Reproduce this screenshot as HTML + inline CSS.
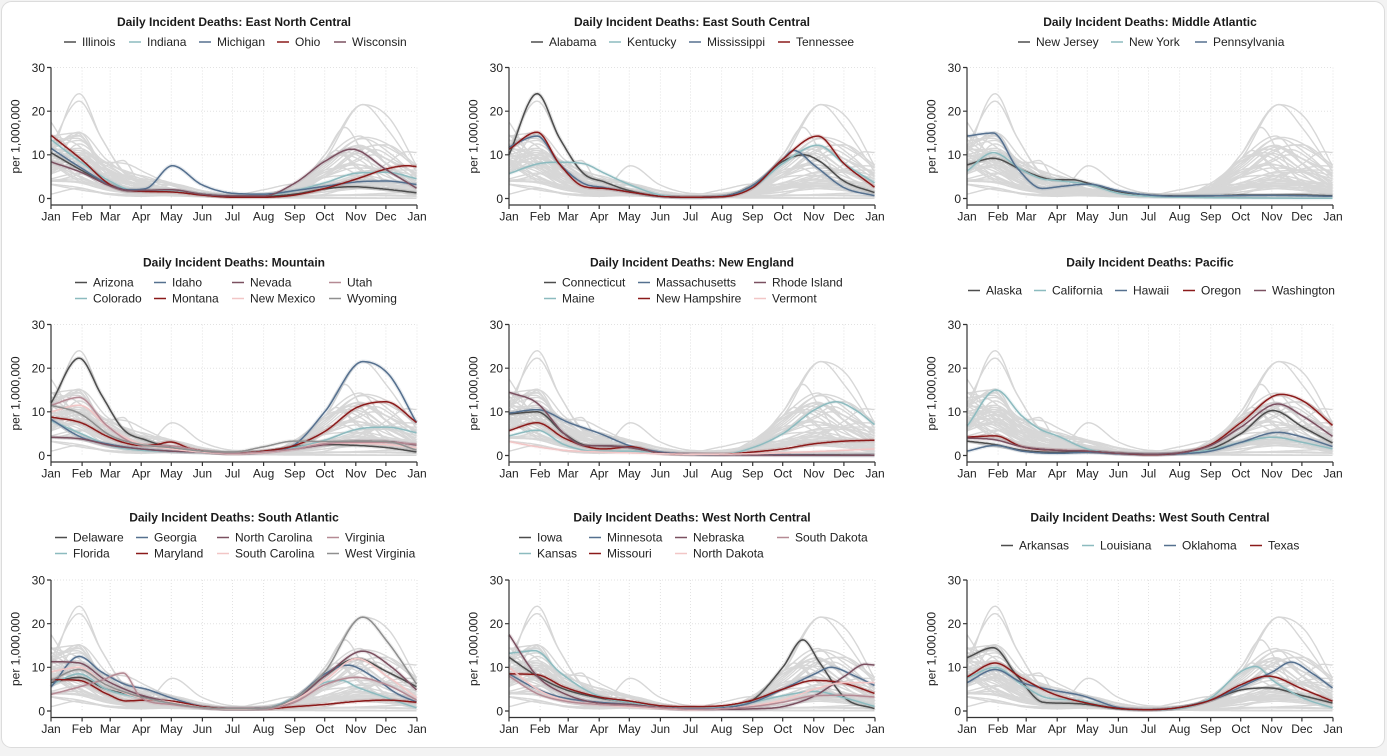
<!DOCTYPE html>
<html><head><meta charset="utf-8">
<style>
html,body{margin:0;padding:0;background:#f3f3f3;}
svg{display:block;font-family:"Liberation Sans",Arial,sans-serif;}
.t{font-size:12px;font-weight:bold;fill:#1a1a1a;text-anchor:middle}
.l{font-size:12px;fill:#222}
.xm{font-size:12px;fill:#222;text-anchor:middle}
.ym{font-size:12px;fill:#222;text-anchor:end}
.yl{font-size:12px;fill:#222;text-anchor:middle}
.sw{stroke-width:1.5;fill:none}
</style></head><body>
<svg id="s" width="1387" height="756" viewBox="0 0 1387 756">
<rect x="1.5" y="1.5" width="1383" height="746" rx="10" fill="#fff" stroke="#dcdcdc"/>

<!-- Titles -->
<text class="t" x="234" y="26">Daily Incident Deaths: East North Central</text>
<text class="t" x="692" y="26">Daily Incident Deaths: East South Central</text>
<text class="t" x="1150" y="26">Daily Incident Deaths: Middle Atlantic</text>
<text class="t" x="234" y="266.5">Daily Incident Deaths: Mountain</text>
<text class="t" x="692" y="266.5">Daily Incident Deaths: New England</text>
<text class="t" x="1150" y="266.5">Daily Incident Deaths: Pacific</text>
<text class="t" x="234" y="521.5">Daily Incident Deaths: South Atlantic</text>
<text class="t" x="692" y="521.5">Daily Incident Deaths: West North Central</text>
<text class="t" x="1150" y="521.5">Daily Incident Deaths: West South Central</text>

<!-- Legends P1 -->
<path class="sw" d="M64,42H76" stroke="#4d4d4d"/><text class="l" x="82" y="46">Illinois</text>
<path class="sw" d="M129,42H141" stroke="#8cbbbf"/><text class="l" x="147" y="46">Indiana</text>
<path class="sw" d="M199,42H211" stroke="#55708f"/><text class="l" x="217" y="46">Michigan</text>
<path class="sw" d="M277,42H289" stroke="#8b1a1a"/><text class="l" x="295" y="46">Ohio</text>
<path class="sw" d="M334,42H346" stroke="#7b5060"/><text class="l" x="352" y="46">Wisconsin</text>
<!-- P2 -->
<path class="sw" d="M531,42H543" stroke="#4d4d4d"/><text class="l" x="549" y="46">Alabama</text>
<path class="sw" d="M609,42H621" stroke="#8cbbbf"/><text class="l" x="627" y="46">Kentucky</text>
<path class="sw" d="M689,42H701" stroke="#55708f"/><text class="l" x="707" y="46">Mississippi</text>
<path class="sw" d="M778,42H790" stroke="#8b1a1a"/><text class="l" x="796" y="46">Tennessee</text>
<!-- P3 -->
<path class="sw" d="M1018,42H1030" stroke="#4d4d4d"/><text class="l" x="1036" y="46">New Jersey</text>
<path class="sw" d="M1111,42H1123" stroke="#8cbbbf"/><text class="l" x="1129" y="46">New York</text>
<path class="sw" d="M1195,42H1207" stroke="#55708f"/><text class="l" x="1213" y="46">Pennsylvania</text>
<!-- P4 -->
<path class="sw" d="M75,282.5H87" stroke="#4d4d4d"/><text class="l" x="93" y="286.5">Arizona</text>
<path class="sw" d="M154,282.5H166" stroke="#55708f"/><text class="l" x="172" y="286.5">Idaho</text>
<path class="sw" d="M232,282.5H244" stroke="#7b5060"/><text class="l" x="250" y="286.5">Nevada</text>
<path class="sw" d="M329,282.5H341" stroke="#b58a94"/><text class="l" x="347" y="286.5">Utah</text>
<path class="sw" d="M75,298.5H87" stroke="#8cbbbf"/><text class="l" x="93" y="302.5">Colorado</text>
<path class="sw" d="M154,298.5H166" stroke="#8b1a1a"/><text class="l" x="172" y="302.5">Montana</text>
<path class="sw" d="M232,298.5H244" stroke="#f2c6c6"/><text class="l" x="250" y="302.5">New Mexico</text>
<path class="sw" d="M329,298.5H341" stroke="#8f8f8f"/><text class="l" x="347" y="302.5">Wyoming</text>
<!-- P5 -->
<path class="sw" d="M544,282.5H556" stroke="#4d4d4d"/><text class="l" x="562" y="286.5">Connecticut</text>
<path class="sw" d="M638,282.5H650" stroke="#55708f"/><text class="l" x="656" y="286.5">Massachusetts</text>
<path class="sw" d="M754,282.5H766" stroke="#7b5060"/><text class="l" x="772" y="286.5">Rhode Island</text>
<path class="sw" d="M544,298.5H556" stroke="#8cbbbf"/><text class="l" x="562" y="302.5">Maine</text>
<path class="sw" d="M638,298.5H650" stroke="#8b1a1a"/><text class="l" x="656" y="302.5">New Hampshire</text>
<path class="sw" d="M754,298.5H766" stroke="#f2c6c6"/><text class="l" x="772" y="302.5">Vermont</text>
<!-- P6 -->
<path class="sw" d="M968,290.5H980" stroke="#4d4d4d"/><text class="l" x="986" y="294.5">Alaska</text>
<path class="sw" d="M1034,290.5H1046" stroke="#8cbbbf"/><text class="l" x="1052" y="294.5">California</text>
<path class="sw" d="M1115,290.5H1127" stroke="#55708f"/><text class="l" x="1133" y="294.5">Hawaii</text>
<path class="sw" d="M1183,290.5H1195" stroke="#8b1a1a"/><text class="l" x="1201" y="294.5">Oregon</text>
<path class="sw" d="M1254,290.5H1266" stroke="#7b5060"/><text class="l" x="1272" y="294.5">Washington</text>
<!-- P7 -->
<path class="sw" d="M55,537.5H67" stroke="#4d4d4d"/><text class="l" x="73" y="541.5">Delaware</text>
<path class="sw" d="M136,537.5H148" stroke="#55708f"/><text class="l" x="154" y="541.5">Georgia</text>
<path class="sw" d="M217,537.5H229" stroke="#7b5060"/><text class="l" x="235" y="541.5">North Carolina</text>
<path class="sw" d="M327,537.5H339" stroke="#b58a94"/><text class="l" x="345" y="541.5">Virginia</text>
<path class="sw" d="M55,553.5H67" stroke="#8cbbbf"/><text class="l" x="73" y="557.5">Florida</text>
<path class="sw" d="M136,553.5H148" stroke="#8b1a1a"/><text class="l" x="154" y="557.5">Maryland</text>
<path class="sw" d="M217,553.5H229" stroke="#f2c6c6"/><text class="l" x="235" y="557.5">South Carolina</text>
<path class="sw" d="M327,553.5H339" stroke="#8f8f8f"/><text class="l" x="345" y="557.5">West Virginia</text>
<!-- P8 -->
<path class="sw" d="M519,537.5H531" stroke="#4d4d4d"/><text class="l" x="537" y="541.5">Iowa</text>
<path class="sw" d="M589,537.5H601" stroke="#55708f"/><text class="l" x="607" y="541.5">Minnesota</text>
<path class="sw" d="M675,537.5H687" stroke="#7b5060"/><text class="l" x="693" y="541.5">Nebraska</text>
<path class="sw" d="M777,537.5H789" stroke="#b58a94"/><text class="l" x="795" y="541.5">South Dakota</text>
<path class="sw" d="M519,553.5H531" stroke="#8cbbbf"/><text class="l" x="537" y="557.5">Kansas</text>
<path class="sw" d="M589,553.5H601" stroke="#8b1a1a"/><text class="l" x="607" y="557.5">Missouri</text>
<path class="sw" d="M675,553.5H687" stroke="#f2c6c6"/><text class="l" x="693" y="557.5">North Dakota</text>
<!-- P9 -->
<path class="sw" d="M1001,545.5H1013" stroke="#4d4d4d"/><text class="l" x="1019" y="549.5">Arkansas</text>
<path class="sw" d="M1082,545.5H1094" stroke="#8cbbbf"/><text class="l" x="1100" y="549.5">Louisiana</text>
<path class="sw" d="M1164,545.5H1176" stroke="#55708f"/><text class="l" x="1182" y="549.5">Oklahoma</text>
<path class="sw" d="M1250,545.5H1262" stroke="#8b1a1a"/><text class="l" x="1268" y="549.5">Texas</text>

<!-- Panels -->
<g transform="translate(51,67.5)"><g id="p0"></g>
<text class="ym" x="-6" y="135.3">0</text><text class="ym" x="-6" y="91.6">10</text><text class="ym" x="-6" y="47.9">20</text><text class="ym" x="-6" y="4.3">30</text>
<text class="xm" x="0" y="153">Jan</text><text class="xm" x="31.1" y="153">Feb</text><text class="xm" x="59.2" y="153">Mar</text><text class="xm" x="90.2" y="153">Apr</text><text class="xm" x="120.3" y="153">May</text><text class="xm" x="151.4" y="153">Jun</text><text class="xm" x="181.5" y="153">Jul</text><text class="xm" x="212.6" y="153">Aug</text><text class="xm" x="243.7" y="153">Sep</text><text class="xm" x="273.7" y="153">Oct</text><text class="xm" x="304.8" y="153">Nov</text><text class="xm" x="334.9" y="153">Dec</text><text class="xm" x="366" y="153">Jan</text>
<text class="yl" transform="translate(-31.5,69) rotate(-90)">per 1,000,000</text></g>

<g transform="translate(509,67.5)"><g id="p1"></g>
<text class="ym" x="-6" y="135.3">0</text><text class="ym" x="-6" y="91.6">10</text><text class="ym" x="-6" y="47.9">20</text><text class="ym" x="-6" y="4.3">30</text>
<text class="xm" x="0" y="153">Jan</text><text class="xm" x="31.1" y="153">Feb</text><text class="xm" x="59.2" y="153">Mar</text><text class="xm" x="90.2" y="153">Apr</text><text class="xm" x="120.3" y="153">May</text><text class="xm" x="151.4" y="153">Jun</text><text class="xm" x="181.5" y="153">Jul</text><text class="xm" x="212.6" y="153">Aug</text><text class="xm" x="243.7" y="153">Sep</text><text class="xm" x="273.7" y="153">Oct</text><text class="xm" x="304.8" y="153">Nov</text><text class="xm" x="334.9" y="153">Dec</text><text class="xm" x="366" y="153">Jan</text>
<text class="yl" transform="translate(-31.5,69) rotate(-90)">per 1,000,000</text></g>

<g transform="translate(967,67.5)"><g id="p2"></g>
<text class="ym" x="-6" y="135.3">0</text><text class="ym" x="-6" y="91.6">10</text><text class="ym" x="-6" y="47.9">20</text><text class="ym" x="-6" y="4.3">30</text>
<text class="xm" x="0" y="153">Jan</text><text class="xm" x="31.1" y="153">Feb</text><text class="xm" x="59.2" y="153">Mar</text><text class="xm" x="90.2" y="153">Apr</text><text class="xm" x="120.3" y="153">May</text><text class="xm" x="151.4" y="153">Jun</text><text class="xm" x="181.5" y="153">Jul</text><text class="xm" x="212.6" y="153">Aug</text><text class="xm" x="243.7" y="153">Sep</text><text class="xm" x="273.7" y="153">Oct</text><text class="xm" x="304.8" y="153">Nov</text><text class="xm" x="334.9" y="153">Dec</text><text class="xm" x="366" y="153">Jan</text>
<text class="yl" transform="translate(-31.5,69) rotate(-90)">per 1,000,000</text></g>

<g transform="translate(51,324.5)"><g id="p3"></g>
<text class="ym" x="-6" y="135.3">0</text><text class="ym" x="-6" y="91.6">10</text><text class="ym" x="-6" y="47.9">20</text><text class="ym" x="-6" y="4.3">30</text>
<text class="xm" x="0" y="153">Jan</text><text class="xm" x="31.1" y="153">Feb</text><text class="xm" x="59.2" y="153">Mar</text><text class="xm" x="90.2" y="153">Apr</text><text class="xm" x="120.3" y="153">May</text><text class="xm" x="151.4" y="153">Jun</text><text class="xm" x="181.5" y="153">Jul</text><text class="xm" x="212.6" y="153">Aug</text><text class="xm" x="243.7" y="153">Sep</text><text class="xm" x="273.7" y="153">Oct</text><text class="xm" x="304.8" y="153">Nov</text><text class="xm" x="334.9" y="153">Dec</text><text class="xm" x="366" y="153">Jan</text>
<text class="yl" transform="translate(-31.5,69) rotate(-90)">per 1,000,000</text></g>

<g transform="translate(509,324.5)"><g id="p4"></g>
<text class="ym" x="-6" y="135.3">0</text><text class="ym" x="-6" y="91.6">10</text><text class="ym" x="-6" y="47.9">20</text><text class="ym" x="-6" y="4.3">30</text>
<text class="xm" x="0" y="153">Jan</text><text class="xm" x="31.1" y="153">Feb</text><text class="xm" x="59.2" y="153">Mar</text><text class="xm" x="90.2" y="153">Apr</text><text class="xm" x="120.3" y="153">May</text><text class="xm" x="151.4" y="153">Jun</text><text class="xm" x="181.5" y="153">Jul</text><text class="xm" x="212.6" y="153">Aug</text><text class="xm" x="243.7" y="153">Sep</text><text class="xm" x="273.7" y="153">Oct</text><text class="xm" x="304.8" y="153">Nov</text><text class="xm" x="334.9" y="153">Dec</text><text class="xm" x="366" y="153">Jan</text>
<text class="yl" transform="translate(-31.5,69) rotate(-90)">per 1,000,000</text></g>

<g transform="translate(967,324.5)"><g id="p5"></g>
<text class="ym" x="-6" y="135.3">0</text><text class="ym" x="-6" y="91.6">10</text><text class="ym" x="-6" y="47.9">20</text><text class="ym" x="-6" y="4.3">30</text>
<text class="xm" x="0" y="153">Jan</text><text class="xm" x="31.1" y="153">Feb</text><text class="xm" x="59.2" y="153">Mar</text><text class="xm" x="90.2" y="153">Apr</text><text class="xm" x="120.3" y="153">May</text><text class="xm" x="151.4" y="153">Jun</text><text class="xm" x="181.5" y="153">Jul</text><text class="xm" x="212.6" y="153">Aug</text><text class="xm" x="243.7" y="153">Sep</text><text class="xm" x="273.7" y="153">Oct</text><text class="xm" x="304.8" y="153">Nov</text><text class="xm" x="334.9" y="153">Dec</text><text class="xm" x="366" y="153">Jan</text>
<text class="yl" transform="translate(-31.5,69) rotate(-90)">per 1,000,000</text></g>

<g transform="translate(51,580)"><g id="p6"></g>
<text class="ym" x="-6" y="135.3">0</text><text class="ym" x="-6" y="91.6">10</text><text class="ym" x="-6" y="47.9">20</text><text class="ym" x="-6" y="4.3">30</text>
<text class="xm" x="0" y="153">Jan</text><text class="xm" x="31.1" y="153">Feb</text><text class="xm" x="59.2" y="153">Mar</text><text class="xm" x="90.2" y="153">Apr</text><text class="xm" x="120.3" y="153">May</text><text class="xm" x="151.4" y="153">Jun</text><text class="xm" x="181.5" y="153">Jul</text><text class="xm" x="212.6" y="153">Aug</text><text class="xm" x="243.7" y="153">Sep</text><text class="xm" x="273.7" y="153">Oct</text><text class="xm" x="304.8" y="153">Nov</text><text class="xm" x="334.9" y="153">Dec</text><text class="xm" x="366" y="153">Jan</text>
<text class="yl" transform="translate(-31.5,69) rotate(-90)">per 1,000,000</text></g>

<g transform="translate(509,580)"><g id="p7"></g>
<text class="ym" x="-6" y="135.3">0</text><text class="ym" x="-6" y="91.6">10</text><text class="ym" x="-6" y="47.9">20</text><text class="ym" x="-6" y="4.3">30</text>
<text class="xm" x="0" y="153">Jan</text><text class="xm" x="31.1" y="153">Feb</text><text class="xm" x="59.2" y="153">Mar</text><text class="xm" x="90.2" y="153">Apr</text><text class="xm" x="120.3" y="153">May</text><text class="xm" x="151.4" y="153">Jun</text><text class="xm" x="181.5" y="153">Jul</text><text class="xm" x="212.6" y="153">Aug</text><text class="xm" x="243.7" y="153">Sep</text><text class="xm" x="273.7" y="153">Oct</text><text class="xm" x="304.8" y="153">Nov</text><text class="xm" x="334.9" y="153">Dec</text><text class="xm" x="366" y="153">Jan</text>
<text class="yl" transform="translate(-31.5,69) rotate(-90)">per 1,000,000</text></g>

<g transform="translate(967,580)"><g id="p8"></g>
<text class="ym" x="-6" y="135.3">0</text><text class="ym" x="-6" y="91.6">10</text><text class="ym" x="-6" y="47.9">20</text><text class="ym" x="-6" y="4.3">30</text>
<text class="xm" x="0" y="153">Jan</text><text class="xm" x="31.1" y="153">Feb</text><text class="xm" x="59.2" y="153">Mar</text><text class="xm" x="90.2" y="153">Apr</text><text class="xm" x="120.3" y="153">May</text><text class="xm" x="151.4" y="153">Jun</text><text class="xm" x="181.5" y="153">Jul</text><text class="xm" x="212.6" y="153">Aug</text><text class="xm" x="243.7" y="153">Sep</text><text class="xm" x="273.7" y="153">Oct</text><text class="xm" x="304.8" y="153">Nov</text><text class="xm" x="334.9" y="153">Dec</text><text class="xm" x="366" y="153">Jan</text>
<text class="yl" transform="translate(-31.5,69) rotate(-90)">per 1,000,000</text></g>
</svg>

<script>
(function(){
var NS='http://www.w3.org/2000/svg';
var D={
'Illinois':[[0,10.5],[30,6.5],[60,3],[78,1.8],[120,1.8],[150,1],[181,0.5],[212,0.5],[243,1],[273,2.2],[300,2.7],[335,2.1],[365,1.3]],
'Indiana':[[0,13.5],[30,8.3],[60,3.8],[80,2],[120,1.8],[150,1],[181,0.6],[212,0.7],[243,1.8],[273,3.6],[305,5.8],[335,6],[365,4.5]],
'Michigan':[[0,11.5],[30,7],[60,3],[78,2],[95,2.3],[121,7.5],[150,3.2],[181,1.2],[212,1],[243,1.8],[273,2.8],[305,3.8],[335,4],[365,3.2]],
'Ohio':[[0,14.5],[30,9],[60,3],[78,1.8],[120,1.5],[150,0.8],[181,0.3],[212,0.3],[243,0.8],[273,2.3],[305,4.5],[335,6.8],[355,7.5],[365,7.3]],
'Wisconsin':[[0,8.4],[30,6],[60,2.8],[78,1.8],[120,2],[150,1],[181,0.6],[212,0.6],[243,3.5],[273,8.5],[300,11.3],[335,6.5],[365,2.3]],
'Alabama':[[0,10],[28,24],[50,14],[74,5.8],[95,3.8],[120,1.8],[151,0.5],[181,0.3],[212,0.5],[243,3],[273,8.5],[294,10],[310,8.5],[334,4],[365,1.3]],
'Kentucky':[[0,5.7],[30,8],[50,8.3],[74,8],[95,5.8],[120,3.2],[151,0.8],[181,0.3],[212,0.5],[243,2.5],[273,8],[308,12.2],[334,8],[365,3.5]],
'Mississippi':[[0,11.8],[28,14.3],[50,8],[74,3.5],[95,2.5],[120,1.5],[151,0.5],[181,0.3],[212,0.5],[243,3],[273,9],[284,11],[305,7.5],[334,2.5],[365,0.6]],
'Tennessee':[[0,11.3],[28,15.2],[50,8],[74,2.8],[95,2.3],[120,1.5],[151,0.5],[181,0.3],[212,0.4],[243,2.5],[273,9],[308,14.3],[334,8],[365,2.5]],
'New Jersey':[[0,7.7],[26,9.2],[55,6.5],[75,4.8],[86,4.3],[105,4.3],[121,3.5],[151,1.6],[181,0.8],[212,0.6],[243,0.6],[273,0.8],[305,0.8],[335,0.8],[365,0.6]],
'New York':[[0,6.3],[26,10.5],[55,6.5],[75,4.5],[86,4.2],[121,3.2],[151,1.2],[181,0.5],[212,0.3],[243,0.2],[305,0.1],[365,0.05]],
'Pennsylvania':[[0,14.3],[26,15],[50,7],[75,2.3],[95,2.8],[121,3.3],[151,1.8],[181,0.8],[212,0.5],[243,0.6],[305,0.7],[365,0.5]],
'Arizona':[[0,12],[28,22.3],[50,14],[72,6],[95,3.5],[120,1.8],[151,1],[181,0.5],[212,1],[243,2],[273,2.5],[305,2.3],[335,1.8],[365,0.8]],
'Colorado':[[0,8],[30,5],[60,2.2],[90,1.2],[120,1],[151,0.8],[181,0.5],[212,0.8],[243,1.8],[273,3.5],[305,6],[335,6.5],[365,5.2]],
'Idaho':[[0,8.3],[30,4.2],[60,2.5],[90,1.5],[120,1],[151,0.8],[181,0.5],[212,0.8],[243,2.5],[273,10],[311,21.5],[337,18.5],[365,7.3]],
'Montana':[[0,8.8],[30,7.5],[55,4.5],[72,3],[90,2.3],[105,2.5],[119,3.1],[140,1.5],[181,0.5],[212,1],[243,2.3],[273,5.5],[305,11],[334,12.3],[365,7.5]],
'Nevada':[[0,4.2],[30,3.8],[60,2.3],[90,1.5],[120,1],[151,0.8],[181,0.5],[212,0.8],[243,1.5],[273,2.5],[305,3.3],[335,3.2],[365,2.4]],
'New Mexico':[[0,10],[28,11.5],[60,6],[85,3],[120,1.5],[151,0.8],[181,0.4],[212,0.7],[243,1.5],[273,2.8],[305,2.8],[335,2.5],[365,1.8]],
'Utah':[[0,11.5],[28,13.3],[55,7],[80,3],[95,2.3],[120,2.2],[151,1],[181,0.5],[212,0.8],[243,1.5],[273,2.7],[305,3],[335,3],[365,2.6]],
'Wyoming':[[0,11.5],[28,9.7],[60,4.5],[90,2.5],[120,1.8],[151,1],[181,0.8],[212,2],[243,3.3],[273,3.2],[305,3.3],[335,3.2],[365,1.2]],
'Connecticut':[[0,9.5],[28,10],[55,5],[78,2.3],[100,2.2],[121,1.8],[151,0.6],[181,0.3],[212,0.2],[243,0.2],[273,0.2],[305,0.15],[365,0.1]],
'Maine':[[0,4.5],[28,5.8],[55,2.5],[85,1],[120,1],[151,0.5],[181,0.3],[212,0.3],[243,1.8],[273,5],[305,10.5],[326,12.3],[345,10.5],[365,7]],
'Massachusetts':[[0,9.7],[28,10.5],[60,7.5],[91,5],[121,2.2],[151,0.8],[181,0.3],[212,0.2],[243,0.2],[305,0.1],[365,0.05]],
'New Hampshire':[[0,5.7],[28,7.5],[55,4],[78,2],[95,1.5],[121,2],[151,0.5],[181,0.3],[212,0.3],[243,0.8],[273,1.5],[305,2.7],[335,3.3],[365,3.5]],
'Rhode Island':[[0,14.5],[28,12],[55,5],[75,2.3],[95,2.2],[121,1.8],[151,0.6],[181,0.3],[212,0.2],[243,0.1],[365,0.05]],
'Vermont':[[0,3.2],[28,2],[55,1.2],[90,0.8],[120,0.6],[181,0.3],[243,0.4],[305,0.9],[365,1.5]],
'Alaska':[[0,3.3],[28,2.5],[55,1.2],[90,0.7],[120,0.8],[151,0.5],[181,0.3],[212,0.4],[243,1.5],[273,5],[305,10.3],[335,6.5],[365,2.8]],
'California':[[0,6.7],[29,15],[55,9],[73,6],[90,4.5],[120,1.5],[151,0.5],[181,0.3],[212,0.5],[243,1.3],[273,3],[305,4.2],[335,3],[365,1.5]],
'Hawaii':[[0,1],[28,2.3],[55,1],[90,0.5],[120,0.7],[151,0.4],[181,0.2],[212,0.4],[243,1],[273,3],[310,5.3],[335,4.2],[365,2]],
'Oregon':[[0,4.2],[28,4.5],[55,2],[90,1.2],[120,1],[151,0.5],[181,0.2],[212,0.6],[243,2.5],[273,7.5],[313,14],[335,12.5],[365,6.8]],
'Washington':[[0,4],[28,3.6],[55,2],[90,1.2],[120,1],[151,0.5],[181,0.3],[212,0.6],[243,2.3],[273,6.5],[310,11.8],[335,9],[365,4.3]],
'Delaware':[[0,6.5],[28,7.7],[55,5],[85,3.5],[120,2],[151,1],[181,0.5],[212,0.6],[243,2.5],[273,8],[305,12],[335,9],[365,5.5]],
'Florida':[[0,6],[28,8.5],[55,5],[90,3],[120,1.8],[151,0.8],[181,0.5],[212,0.6],[243,3],[273,6.5],[290,7],[305,5.5],[335,3],[365,0.7]],
'Georgia':[[0,5.5],[28,12.5],[50,9],[75,6],[95,5],[120,3],[151,1],[181,0.5],[212,0.6],[243,3],[273,8.5],[296,10.5],[320,8],[345,4],[365,2]],
'Maryland':[[0,7.2],[28,7],[55,4],[75,2.3],[95,2.5],[120,2.3],[151,1],[181,0.5],[212,0.5],[243,1],[273,1.5],[305,2.2],[335,2.5],[365,2]],
'North Carolina':[[0,11.3],[28,11],[55,7],[85,4],[120,2],[151,0.8],[181,0.5],[212,0.6],[243,2.5],[273,8],[311,13.7],[340,10],[365,4.7]],
'South Carolina':[[0,9],[28,10],[55,6],[90,3],[120,2],[151,0.8],[181,0.4],[212,0.6],[243,2.5],[273,7],[305,12],[335,8],[365,3]],
'Virginia':[[0,3.8],[28,5.5],[50,7],[72,8.7],[90,3],[120,1.5],[151,0.8],[181,0.5],[212,0.5],[243,2],[273,6],[305,7.7],[335,6],[365,2.5]],
'West Virginia':[[0,7],[28,9.5],[55,6],[85,3.5],[120,1.8],[151,0.8],[181,0.5],[212,0.6],[243,3],[273,9],[311,21.5],[335,16],[365,6]],
'Iowa':[[0,12.3],[28,8],[55,5],[90,3],[120,2],[151,0.8],[181,0.5],[212,0.8],[243,2.5],[273,10],[293,16.3],[310,11],[335,3],[365,0.5]],
'Kansas':[[0,13.2],[26,13.8],[50,9],[75,5],[95,3],[120,2],[151,1],[181,0.6],[212,0.8],[243,2],[273,3.5],[305,4.5],[335,3],[365,1]],
'Minnesota':[[0,8.5],[28,5],[55,3],[90,2],[120,1.5],[151,0.8],[181,0.5],[212,0.7],[243,2],[273,5],[305,8.5],[321,10],[345,8],[365,5.8]],
'Missouri':[[0,8.5],[28,8.3],[55,5.5],[90,3.2],[120,2.3],[151,1.2],[181,1],[212,1.2],[243,2.5],[273,5],[305,7],[335,6.3],[365,4]],
'Nebraska':[[0,17.5],[28,8],[55,4],[90,1.8],[120,1.5],[151,0.8],[181,0.4],[212,0.4],[243,0.5],[273,1],[305,3.5],[335,8],[355,10.7],[365,10.5]],
'North Dakota':[[0,10],[28,5],[55,2.5],[90,1.5],[120,1],[151,0.6],[181,0.3],[212,0.5],[243,1.2],[273,2.5],[305,5],[335,6.5],[365,6.5]],
'South Dakota':[[0,8],[28,4],[55,2.3],[90,1.5],[120,1.2],[151,0.7],[181,0.4],[212,0.5],[243,1],[273,2],[305,3.5],[335,3.6],[365,3.2]],
'Arkansas':[[0,12.2],[26,14.5],[50,8],[76,2],[95,1.8],[120,1.5],[151,0.5],[181,0.3],[212,0.8],[243,2.5],[273,4.8],[300,5.3],[335,3.5],[365,1.8]],
'Louisiana':[[0,7.5],[28,10],[55,6],[80,3],[110,2.5],[130,1.5],[151,0.6],[181,0.3],[212,0.6],[243,3],[273,9],[288,10.2],[305,7],[335,3],[365,0.7]],
'Oklahoma':[[0,6.5],[28,9.5],[55,6.5],[85,4.8],[115,3.5],[151,0.8],[181,0.3],[212,0.8],[243,2.5],[273,5.5],[305,9],[323,11.2],[345,8.5],[365,5.2]],
'Texas':[[0,7.8],[28,11],[55,7.5],[85,4],[120,1.8],[151,0.6],[181,0.3],[212,0.8],[243,2.5],[273,6],[300,8],[335,5],[365,2.2]]
};
var C=['#4d4d4d','#8cbbbf','#55708f','#8b1a1a','#7b5060','#f2c6c6','#b58a94','#8f8f8f'];
var P=[
 ['Illinois','Indiana','Michigan','Ohio','Wisconsin'],
 ['Alabama','Kentucky','Mississippi','Tennessee'],
 ['New Jersey','New York','Pennsylvania'],
 ['Arizona','Colorado','Idaho','Montana','Nevada','New Mexico','Utah','Wyoming'],
 ['Connecticut','Maine','Massachusetts','New Hampshire','Rhode Island','Vermont'],
 ['Alaska','California','Hawaii','Oregon','Washington'],
 ['Delaware','Florida','Georgia','Maryland','North Carolina','South Carolina','Virginia','West Virginia'],
 ['Iowa','Kansas','Minnesota','Missouri','Nebraska','North Dakota','South Dakota'],
 ['Arkansas','Louisiana','Oklahoma','Texas']
];
var M=[0,31,59,90,120,151,181,212,243,273,304,334,365];
var K=366/365, H=131/30;
function curve(k){
  var n=k.length,xs=[],ys=[],d=[],m=[],i;
  for(i=0;i<n;i++){xs.push(k[i][0]);ys.push(k[i][1]);}
  for(i=0;i<n-1;i++) d[i]=(ys[i+1]-ys[i])/(xs[i+1]-xs[i]);
  m[0]=d[0]; m[n-1]=d[n-2];
  for(i=1;i<n-1;i++){ m[i]=(d[i-1]*d[i]<=0)?0:(d[i-1]+d[i])/2; }
  for(i=0;i<n-1;i++){
    if(d[i]===0){m[i]=0;m[i+1]=0;continue;}
    var a=m[i]/d[i],b=m[i+1]/d[i],h=a*a+b*b;
    if(h>9){var t=3/Math.sqrt(h);m[i]=t*a*d[i];m[i+1]=t*b*d[i];}
  }
  var s='',seg=0;
  for(var x=0;x<=365.01;x+=1.5){
    var xx=Math.min(x,365);
    while(seg<n-2 && xx>xs[seg+1]) seg++;
    var x0=xs[seg],x1=xs[seg+1],hh=x1-x0,tt=(xx-x0)/hh;
    var t2=tt*tt,t3=t2*tt;
    var v=(2*t3-3*t2+1)*ys[seg]+(t3-2*t2+tt)*hh*m[seg]+(-2*t3+3*t2)*ys[seg+1]+(t3-t2)*hh*m[seg+1];
    if(v<0)v=0;
    s+=(s?'L':'M')+(xx*K).toFixed(1)+','+(131-v*H).toFixed(1);
  }
  return s;
}
var paths={};
for(var s in D) paths[s]=curve(D[s]);
function el(tag,attrs,parent){var e=document.createElementNS(NS,tag);for(var a in attrs)e.setAttribute(a,attrs[a]);parent.appendChild(e);return e;}
P.forEach(function(list,i){
  var g=document.getElementById('p'+i);
  var gd='';
  M.forEach(function(mm){ if(mm>0) gd+='M'+(mm*K).toFixed(1)+',0V131'; });
  [10,20,30].forEach(function(v){gd+='M0,'+(131-v*H).toFixed(1)+'H366';});
  el('path',{d:gd,stroke:'#e2e2e2','stroke-dasharray':'1,2',fill:'none','stroke-width':1},g);
  for(var s in D) el('path',{d:paths[s],stroke:'#d7d7d7','stroke-width':1.4,fill:'none'},g);
  list.forEach(function(s,j){ el('path',{d:paths[s],stroke:C[j],'stroke-width':4,'stroke-opacity':0.14,fill:'none'},g); });
  list.forEach(function(s,j){ el('path',{d:paths[s],stroke:C[j],'stroke-width':1.5,fill:'none'},g); });
  var ad='M0,0V137.5H366';
  [0,10,20,30].forEach(function(v){ad+='M-4,'+(131-v*H).toFixed(1)+'H0';});
  M.forEach(function(mm){ad+='M'+(mm*K).toFixed(1)+',137.5V141.5';});
  el('path',{d:ad,stroke:'#333','stroke-width':1.2,fill:'none'},g);
});
})();
</script>
</body></html>
